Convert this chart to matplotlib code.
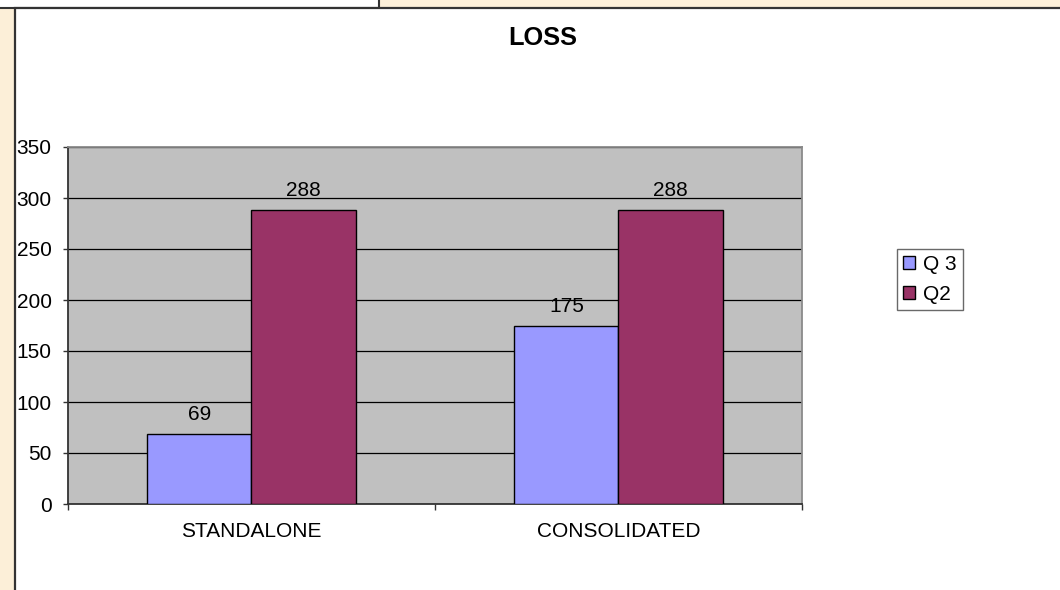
import matplotlib
matplotlib.use("Agg")
import matplotlib.pyplot as plt
from matplotlib.patches import Rectangle, Patch
import numpy as np

categories = ['STANDALONE', 'CONSOLIDATED']
series_names = ['Q 3', 'Q2']
q3_values = [69, 175]
q2_values = [288, 288]
series_colors = ['#9999FF', '#993366']
y_ticks = [0, 50, 100, 150, 200, 250, 300, 350]
title = 'LOSS'

plt.rcParams['font.family'] = ['Liberation Sans', 'DejaVu Sans']

W, H = 1060, 590
FS = 15
fig = plt.figure(figsize=(W / 100, H / 100), dpi=100)
fig.patch.set_facecolor('#FCEFD8')

# small white box at top-left
fig.patches.append(Rectangle((-0.01, 1 - 7.5 / H), (380 + 10) / W, 0.05,
                             transform=fig.transFigure, facecolor='white',
                             edgecolor='#333333', linewidth=1.5, zorder=0))
# main white chart box
fig.patches.append(Rectangle((14.5 / W, -0.05), 1.2, 1 - 7.5 / H + 0.05,
                             transform=fig.transFigure, facecolor='white',
                             edgecolor='#333333', linewidth=1.6, zorder=1))

ax = fig.add_axes([68 / W, 1 - 504 / H, (802 - 68) / W, (504 - 147) / H])
ax.set_zorder(2)
ax.set_facecolor('#C0C0C0')

x = np.arange(len(categories))
bw = 0.284
bars1 = ax.bar(x - bw / 2, q3_values, bw, color=series_colors[0],
               edgecolor='black', linewidth=1.0, zorder=3, label=series_names[0])
bars2 = ax.bar(x + bw / 2, q2_values, bw, color=series_colors[1],
               edgecolor='black', linewidth=1.0, zorder=3, label=series_names[1])

for bars, vals in ((bars1, q3_values), (bars2, q2_values)):
    for b, v in zip(bars, vals):
        ax.annotate(str(v), (b.get_x() + b.get_width() / 2, v),
                    xytext=(0, 10), textcoords='offset points',
                    ha='center', va='baseline', fontsize=FS, color='black')

ax.set_xlim(-0.5, len(categories) - 0.5)
ax.set_ylim(0, 350)
ax.set_yticks(y_ticks)
ax.set_yticklabels([str(t) for t in y_ticks])
ax.yaxis.grid(True, color='black', linewidth=0.9, zorder=1)
ax.set_axisbelow(True)

ax.set_xticks(np.arange(-0.5, len(categories), 1.0))
ax.set_xticklabels([])
ax.set_xticks(x, minor=True)
ax.set_xticklabels(categories, minor=True)
ax.tick_params(axis='x', which='major', direction='out', length=4.3, width=1.0, color='#333333')
ax.tick_params(axis='x', which='minor', length=0, pad=13, labelsize=FS)
ax.tick_params(axis='y', direction='out', length=3.8, width=1.0, pad=8,
               labelsize=FS, color='#333333')

for s in ('left', 'bottom'):
    ax.spines[s].set_color('#333333')
    ax.spines[s].set_linewidth(1.3)
for s in ('top', 'right'):
    ax.spines[s].set_color('#8A8A8A')
    ax.spines[s].set_linewidth(1.3)

fig.text(543 / W, 1 - 38 / H, title, ha='center', va='center',
         fontsize=18.3, fontweight='bold', color='black')

handles = [Patch(facecolor=series_colors[0], edgecolor='black', linewidth=1.0),
           Patch(facecolor=series_colors[1], edgecolor='black', linewidth=1.0)]
leg = fig.legend(handles, series_names, loc='upper left',
                 bbox_to_anchor=(897 / W, 1 - 249 / H), bbox_transform=fig.transFigure,
                 fontsize=FS, frameon=True, fancybox=False, shadow=False,
                 handlelength=0.58, handleheight=0.58, handletextpad=0.35,
                 labelspacing=0.5, borderpad=0.3, borderaxespad=0)
leg.get_frame().set_edgecolor('#444444')
leg.get_frame().set_linewidth(1.0)
leg.get_frame().set_facecolor('white')
leg.set_zorder(5)

fig.savefig('out.png', dpi=100, facecolor=fig.get_facecolor())
